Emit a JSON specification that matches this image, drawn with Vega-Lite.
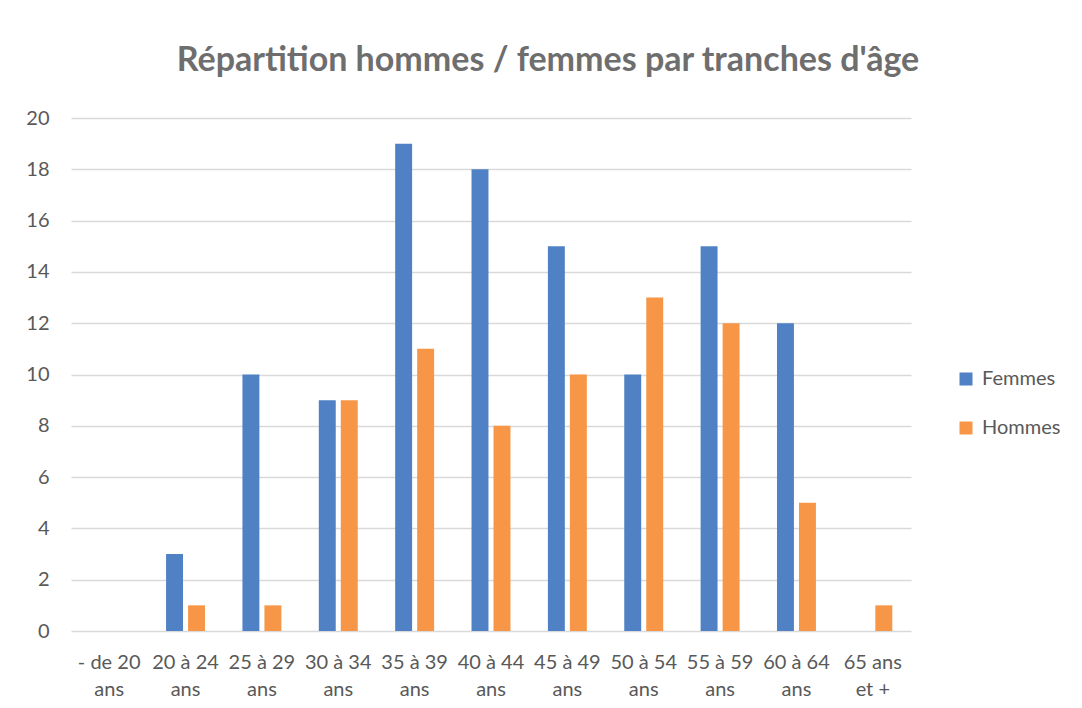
{
  "$schema": "https://vega.github.io/schema/vega-lite/v6.json",
  "width": 840,
  "height": 513,
  "autosize": {"type": "none"},
  "padding": {"left": 71, "top": 118, "right": 171, "bottom": 77},
  "background": "white",
  "title": {
    "text": "Répartition hommes / femmes par tranches d'âge",
    "font": "Lato",
    "fontSize": 34,
    "fontWeight": "bold",
    "color": "#6e6e6e",
    "anchor": "middle",
    "dx": 57,
    "offset": 30
  },
  "data": {
    "values": [
      {"tranche": "- de 20 ans", "sexe": "Femmes", "n": 0},
      {"tranche": "- de 20 ans", "sexe": "Hommes", "n": 0},
      {"tranche": "20 à 24 ans", "sexe": "Femmes", "n": 3},
      {"tranche": "20 à 24 ans", "sexe": "Hommes", "n": 1},
      {"tranche": "25 à 29 ans", "sexe": "Femmes", "n": 10},
      {"tranche": "25 à 29 ans", "sexe": "Hommes", "n": 1},
      {"tranche": "30 à 34 ans", "sexe": "Femmes", "n": 9},
      {"tranche": "30 à 34 ans", "sexe": "Hommes", "n": 9},
      {"tranche": "35 à 39 ans", "sexe": "Femmes", "n": 19},
      {"tranche": "35 à 39 ans", "sexe": "Hommes", "n": 11},
      {"tranche": "40 à 44 ans", "sexe": "Femmes", "n": 18},
      {"tranche": "40 à 44 ans", "sexe": "Hommes", "n": 8},
      {"tranche": "45 à 49 ans", "sexe": "Femmes", "n": 15},
      {"tranche": "45 à 49 ans", "sexe": "Hommes", "n": 10},
      {"tranche": "50 à 54 ans", "sexe": "Femmes", "n": 10},
      {"tranche": "50 à 54 ans", "sexe": "Hommes", "n": 13},
      {"tranche": "55 à 59 ans", "sexe": "Femmes", "n": 15},
      {"tranche": "55 à 59 ans", "sexe": "Hommes", "n": 12},
      {"tranche": "60 à 64 ans", "sexe": "Femmes", "n": 12},
      {"tranche": "60 à 64 ans", "sexe": "Hommes", "n": 5},
      {"tranche": "65 ans et +", "sexe": "Femmes", "n": 0},
      {"tranche": "65 ans et +", "sexe": "Hommes", "n": 1}
    ]
  },
  "mark": {"type": "bar"},
  "encoding": {
    "x": {
      "field": "tranche",
      "type": "nominal",
      "sort": null,
      "title": null,
      "scale": {"paddingInner": 0.49, "paddingOuter": 0.245},
      "axis": {
        "domain": false,
        "ticks": false,
        "labelAngle": 0,
        "labelFont": "Lato",
        "labelFontSize": 20,
        "labelColor": "#595959",
        "labelPadding": 21,
        "labelLineHeight": 27,
        "labelExpr": "datum.label == '65 ans et +' ? ['65 ans', 'et +'] : [slice(datum.label, 0, -4), 'ans']"
      }
    },
    "xOffset": {
      "field": "sexe",
      "type": "nominal",
      "scale": {"paddingInner": 0.23, "paddingOuter": 0}
    },
    "y": {
      "field": "n",
      "type": "quantitative",
      "title": null,
      "scale": {"domain": [0, 20], "nice": false},
      "axis": {
        "values": [0, 2, 4, 6, 8, 10, 12, 14, 16, 18, 20],
        "domain": false,
        "ticks": false,
        "gridColor": "#d9d9d9",
        "gridWidth": 1.5,
        "labelFont": "Lato",
        "labelFontSize": 20,
        "labelColor": "#595959",
        "labelPadding": 22
      }
    },
    "color": {
      "field": "sexe",
      "type": "nominal",
      "scale": {"domain": ["Femmes", "Hommes"], "range": ["#4f81c4", "#f79646"]},
      "legend": {
        "title": null,
        "orient": "none",
        "legendX": 885,
        "legendY": 251,
        "symbolType": "square",
        "symbolSize": 169,
        "symbolStrokeWidth": 0,
        "labelFont": "Lato",
        "labelFontSize": 20,
        "labelColor": "#595959",
        "labelOffset": 6,
        "rowPadding": 29
      }
    }
  },
  "config": {"view": {"stroke": null}}
}
